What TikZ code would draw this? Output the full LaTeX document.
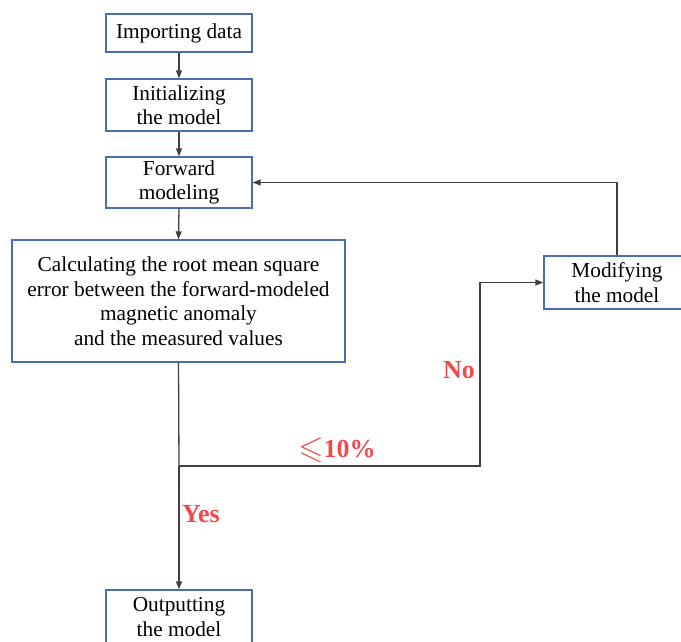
\documentclass[tikz,border=0pt]{standalone}
\usepackage{fontspec}
\usepackage{amssymb}
\setmainfont{Liberation Serif}
\usetikzlibrary{arrows.meta}
\definecolor{boxblue}{HTML}{4A6CB0}
\definecolor{linegray}{HTML}{404040}
\definecolor{lblred}{HTML}{F04A4A}
\tikzset{
  stepbox/.style={draw=boxblue, line width=1.3pt, fill=white, align=center, inner sep=0pt,
    font=\fontsize{21.3}{24.5}\selectfont},
  conn/.style={draw=linegray, line width=1.3pt, -{Triangle[length=8pt,width=6pt]}},
  plain/.style={draw=linegray, line width=1.3pt},
  lbl/.style={text=lblred, font=\fontsize{26}{28}\selectfont\bfseries}
}
\begin{document}
\begin{tikzpicture}[x=1pt,y=-1pt]
\useasboundingbox (0,0) rectangle (681,641);
\clip (0,0) rectangle (681,641);
\node[stepbox, minimum width=146pt, minimum height=38pt] (imp) at (179,33) {Importing data};
\node[stepbox, minimum width=146pt, minimum height=52pt] (init) at (179,105) {Initializing\\the model};
\node[stepbox, minimum width=146pt, minimum height=51pt] (fwd) at (179,182.5) {Forward\\modeling};
\node[stepbox, minimum width=333pt, minimum height=122pt] (calc) at (178.5,301) {Calculating the root mean square\\error between the forward-modeled\\magnetic anomaly\\and the measured values};
\node[stepbox, minimum width=146pt, minimum height=53pt] (mod) at (617,282.5) {Modifying\\the model};
\node[stepbox, minimum width=146pt, minimum height=54pt] (out) at (179,617) {Outputting\\the model};
\coordinate (j) at (179,466);
\coordinate (k) at (480,466);
\draw[conn] (imp.south) -- (init.north);
\draw[conn] (init.south) -- (fwd.north);
\draw[conn] (fwd.south) -- (calc.north);
\draw[plain] (calc.south) -- (j);
\draw[conn] (j) -- (out.north);
\draw[conn] (j) -- (k) |- (mod.west);
\draw[conn] (mod.north) |- (fwd.east);
\node[lbl] (no) at (459,370) {No};
\node[lbl] (pct) at (337,450) {\raisebox{-1pt}{\scalebox{1.25}{$\leqslant$}}10\%};
\node[lbl] (yes) at (201,514) {Yes};
\end{tikzpicture}
\end{document}
